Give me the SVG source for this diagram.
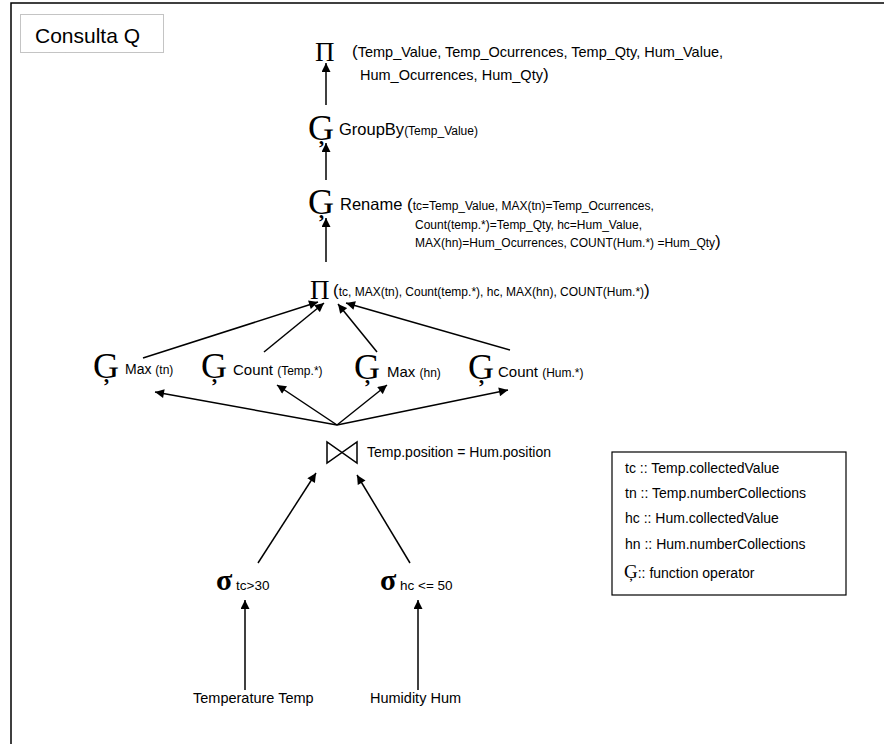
<svg xmlns="http://www.w3.org/2000/svg" width="884" height="744" viewBox="0 0 884 744">
  <defs>
    <marker id="arrow" viewBox="0 0 10 10" refX="10" refY="5" markerWidth="10" markerHeight="9" markerUnits="userSpaceOnUse" orient="auto">
      <path d="M0,0 L10,5 L0,10 Z" fill="#000"/>
    </marker>
  </defs>
  <style>
    text { font-family: "Liberation Sans", Arial, sans-serif; fill: #000; }
    .op { font-family: "Liberation Serif", "Times New Roman", serif; }
    .g { font-size: 36px; }
    .pi { font-size: 27px; }
    .sig { font-size: 30px; font-weight: bold; }
    .lbl { font-size: 16.5px; }
    .sm { font-size: 12px; }
    .par { font-size: 17px; }
    .edge { stroke: #000; stroke-width: 1.5; fill: none; marker-end: url(#arrow); }
    .legend { font-size: 14px; }
  </style>

  <rect width="884" height="744" fill="#fff"/>
  <!-- outer frame: only the top and left edges fall inside the page -->
  <path d="M11,744 V3 H884" fill="none" stroke="#000" stroke-width="1.5"/>

  <!-- title -->
  <g id="title">
    <rect x="20.5" y="14.5" width="143" height="38" fill="none" stroke="#888" stroke-width="1" stroke-dasharray="1,1"/>
    <text x="35" y="43" font-size="21">Consulta Q</text>
  </g>

  <!-- final projection -->
  <g id="proj-final">
    <text class="op pi" x="315" y="61">Π</text>
    <text x="352" y="57" font-size="14.5"><tspan class="par">(</tspan>Temp_Value, Temp_Ocurrences, Temp_Qty, Hum_Value,</text>
    <text x="360" y="80" font-size="14.5">Hum_Ocurrences, Hum_Qty<tspan class="par">)</tspan></text>
  </g>

  <g id="groupby">
    <text class="op g" x="308" y="140">Ģ</text>
    <text x="339" y="135" class="lbl">GroupBy<tspan class="sm">(Temp_Value)</tspan></text>
  </g>

  <g id="rename">
    <text class="op g" x="308" y="214">Ģ</text>
    <text x="340" y="210" class="lbl">Rename <tspan class="par">(</tspan><tspan class="sm">tc=Temp_Value, MAX(tn)=Temp_Ocurrences,</tspan></text>
    <text x="415" y="229" class="sm">Count(temp.*)=Temp_Qty, hc=Hum_Value,</text>
    <text x="415" y="247" class="sm">MAX(hn)=Hum_Ocurrences, COUNT(Hum.*) =Hum_Qty<tspan class="par">)</tspan></text>
  </g>

  <g id="proj-inner">
    <text class="op pi" x="310" y="299">Π</text>
    <text x="333" y="296" class="sm"><tspan class="par">(</tspan>tc, MAX(tn), Count(temp.*), hc, MAX(hn), COUNT(Hum.*)<tspan class="par">)</tspan></text>
  </g>

  <g id="agg-max-tn">
    <text class="op g" x="93" y="378">Ģ</text>
    <text x="125" y="374" font-size="14">Max <tspan class="sm">(tn)</tspan></text>
  </g>
  <g id="agg-count-temp">
    <text class="op g" x="201" y="378">Ģ</text>
    <text x="233" y="375" font-size="15">Count <tspan class="sm">(Temp.*)</tspan></text>
  </g>
  <g id="agg-max-hn">
    <text class="op g" x="354" y="379">Ģ</text>
    <text x="387" y="377" font-size="15">Max <tspan class="sm">(hn)</tspan></text>
  </g>
  <g id="agg-count-hum">
    <text class="op g" x="468" y="379">Ģ</text>
    <text x="498" y="377" font-size="15">Count <tspan class="sm">(Hum.*)</tspan></text>
  </g>

  <g id="join">
    <path d="M327,442 L327,463 L357,442 L357,463 Z" fill="none" stroke="#000" stroke-width="1.5"/>
    <text x="367" y="457" font-size="14">Temp.position = Hum.position</text>
  </g>

  <g id="select-temp">
    <text class="op sig" x="216" y="590">σ</text>
    <text x="236" y="590" font-size="13.5">tc&gt;30</text>
  </g>
  <g id="select-hum">
    <text class="op sig" x="380" y="590">σ</text>
    <text x="400" y="590" font-size="13.5">hc &lt;= 50</text>
  </g>

  <g id="rel-temp">
    <text x="193" y="703" font-size="14.5">Temperature Temp</text>
  </g>
  <g id="rel-hum">
    <text x="370" y="703" font-size="14.5">Humidity Hum</text>
  </g>

  <g id="legend">
    <rect x="612" y="452" width="234" height="143" fill="none" stroke="#000" stroke-width="1.2"/>
    <text x="625" y="473" class="legend">tc :: Temp.collectedValue</text>
    <text x="625" y="498" class="legend">tn :: Temp.numberCollections</text>
    <text x="625" y="523" class="legend">hc :: Hum.collectedValue</text>
    <text x="625" y="549" class="legend">hn :: Hum.numberCollections</text>
    <text x="624" y="578" class="legend"><tspan class="op" font-size="19">Ģ</tspan>:: function operator</text>
  </g>

  <g id="connectors">
    <line class="edge" x1="326" y1="105" x2="326" y2="63"/>
    <line class="edge" x1="326" y1="180" x2="326" y2="143"/>
    <line class="edge" x1="326" y1="262" x2="326" y2="218"/>
    <line class="edge" x1="143" y1="358" x2="318" y2="302"/>
    <line class="edge" x1="264" y1="352" x2="324" y2="303"/>
    <line class="edge" x1="377" y1="352" x2="338" y2="304"/>
    <line class="edge" x1="510" y1="350" x2="346" y2="303"/>
    <line class="edge" x1="337" y1="425" x2="155" y2="392"/>
    <line class="edge" x1="337" y1="425" x2="277" y2="385"/>
    <line class="edge" x1="337" y1="425" x2="387" y2="385"/>
    <line class="edge" x1="337" y1="425" x2="508" y2="390"/>
    <line class="edge" x1="258" y1="563" x2="316" y2="473"/>
    <line class="edge" x1="410" y1="563" x2="357" y2="475"/>
    <line class="edge" x1="245" y1="690" x2="245" y2="600"/>
    <line class="edge" x1="418" y1="690" x2="418" y2="600"/>
  </g>
</svg>
